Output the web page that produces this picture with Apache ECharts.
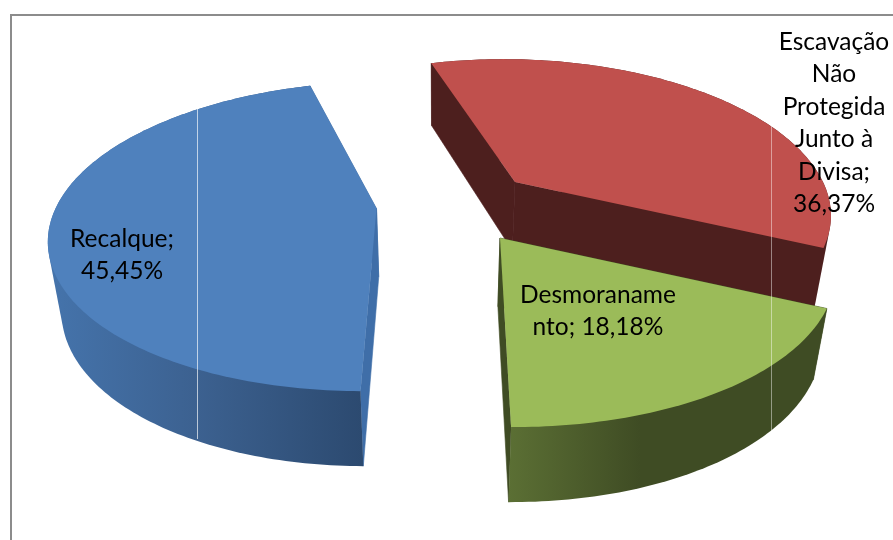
<!DOCTYPE html>
<html>
<head>
<meta charset="utf-8">
<style>
  html, body { margin: 0; padding: 0; background: #fff; }
  #main { width: 893px; height: 540px; }
</style>
</head>
<body>
<div id="main"></div>
<script src="https://cdn.jsdelivr.net/npm/echarts@6/dist/echarts.min.js"></script>
<script>
// data, in drawing order (clockwise from the front of the pie)
var categories = ['Recalque', 'Escavação Não Protegida Junto à Divisa', 'Desmoronamento'];
var values = [45.45, 36.37, 18.18];
var labels = [
  'Recalque;\n45,45%',
  'Escavação\nNão\nProtegida\nJunto à\nDivisa;\n36,37%',
  'Desmoraname\nnto; 18,18%'
];

// perspective of the tilted pie
var startAngle = 180.3;
var vanishX = 440, vanishY = 182;
var persp = 0.18, radiusY = 145, depth = 68.5, depthPersp = 0.095, lowerShrink = 0.965;

// exploded slices: apex on screen, horizontal radius, colours, label centre
var slices = [
  { x: 376.5, y: 208.5, rx: 321, top: '#4f81bd', cut: '#3f6ea8',
    rim: [[47, '#4574ac'], [197, '#3c6190'], [362, '#2c4a70']], lx: 122, ly: 255 },
  { x: 515, y: 182, rx: 308, top: '#c0504d', cut: '#4d1f1e',
    rim: [[500, '#4d1f1e'], [840, '#4d1f1e']], lx: 834, ly: 123 },
  { x: 500, y: 238, rx: 328, top: '#9bbb59', cut: '#3f4c24',
    rim: [[509, '#5b6f34'], [640, '#3f4c24'], [830, '#3f4c24']], lx: 598, ly: 311 }
];

function project(s, r, deg, lower) {
  var a = deg * Math.PI / 180;
  var u = r * Math.sin(a), v = r * Math.cos(a);
  var w = 1 + persp * v;
  var px = vanishX + (s.x - vanishX + s.rx * u) / w;
  var py = vanishY + (s.y - vanishY - radiusY * v) / w;
  if (lower) {
    px = vanishX + (px - vanishX) * lowerShrink;
    py += depth * (1 - depthPersp * v);
  }
  return [px, py];
}

function arc(s, from, to, lower) {
  var pts = [];
  var n = Math.ceil(to - from);
  for (var i = 0; i <= n; i++) {
    pts.push(project(s, 1, from + (to - from) * i / n, lower));
  }
  return pts;
}

// outline of the side wall: the arcs are under 180 degrees so the hull is safe,
// the top face is painted over the part that sticks out
function hull(points) {
  var pts = points.slice().sort(function (a, b) { return a[0] - b[0] || a[1] - b[1]; });
  function cross(o, a, b) {
    return (a[0] - o[0]) * (b[1] - o[1]) - (a[1] - o[1]) * (b[0] - o[0]);
  }
  function half(list) {
    var out = [];
    list.forEach(function (p) {
      while (out.length > 1 && cross(out[out.length - 2], out[out.length - 1], p) <= 0) out.pop();
      out.push(p);
    });
    out.pop();
    return out;
  }
  return half(pts).concat(half(pts.slice().reverse()));
}

var total = values.reduce(function (a, b) { return a + b; }, 0);

function renderSlice(params, api) {
  var i = params.dataIndex;
  var s = slices[i];
  var from = startAngle;
  for (var k = 0; k < i; k++) from += values[k] / total * 360;
  var to = from + api.value(0) / total * 360;

  var apex = project(s, 0, 0, false), apexLow = project(s, 0, 0, true);
  var topArc = arc(s, from, to, false), lowArc = arc(s, from, to, true);
  var x0 = s.rim[0][0], x1 = s.rim[s.rim.length - 1][0];
  var rimFill = new echarts.graphic.LinearGradient(x0, 0, x1, 0, s.rim.map(function (c) {
    return { offset: (c[0] - x0) / (x1 - x0), color: c[1] };
  }), true);

  function poly(points, fill, seam) {
    return {
      type: 'polygon',
      shape: { points: points },
      style: { fill: fill, stroke: seam ? fill : null, lineWidth: seam ? 0.6 : 0 }
    };
  }

  return {
    type: 'group',
    children: [
      poly([apex, apexLow, lowArc[0], topArc[0]], s.cut, true),
      poly([apex, apexLow, lowArc[lowArc.length - 1], topArc[topArc.length - 1]], s.cut, true),
      poly(hull(topArc.concat(lowArc)), rimFill),
      poly([apex].concat(topArc), s.top),
      {
        type: 'text',
        z2: 10,
        style: {
          x: s.lx, y: s.ly, text: labels[i],
          fill: '#000', align: 'center', verticalAlign: 'middle',
          font: '24.5px Lato', lineHeight: 32.5
        }
      }
    ]
  };
}

var myChart = echarts.init(document.getElementById('main'), null, { renderer: 'canvas' });
myChart.setOption({
  animation: false,
  backgroundColor: '#fff',
  graphic: [
    // chart frame, runs off the right and bottom of the picture
    { type: 'polyline', z: 0, shape: { points: [[11, 540], [11, 15], [893, 15]] },
      style: { fill: null, stroke: '#8c8c8c', lineWidth: 2 } },
    // thin light seams across the slices
    { type: 'line', z: 5, shape: { x1: 197.5, y1: 108, x2: 197.5, y2: 439 },
      style: { stroke: 'rgba(255,255,255,0.65)', lineWidth: 1 } },
    { type: 'line', z: 5, shape: { x1: 771.5, y1: 121, x2: 771.5, y2: 431 },
      style: { stroke: 'rgba(255,255,255,0.45)', lineWidth: 1 } }
  ],
  series: [{
    type: 'custom',
    name: 'Causas',
    coordinateSystem: 'none',
    z: 2,
    silent: true,
    data: values.map(function (v, i) { return { name: categories[i], value: [v] }; }),
    renderItem: renderSlice
  }]
});
window.addEventListener('resize', function () { myChart.resize(); });
</script>
</body>
</html>
